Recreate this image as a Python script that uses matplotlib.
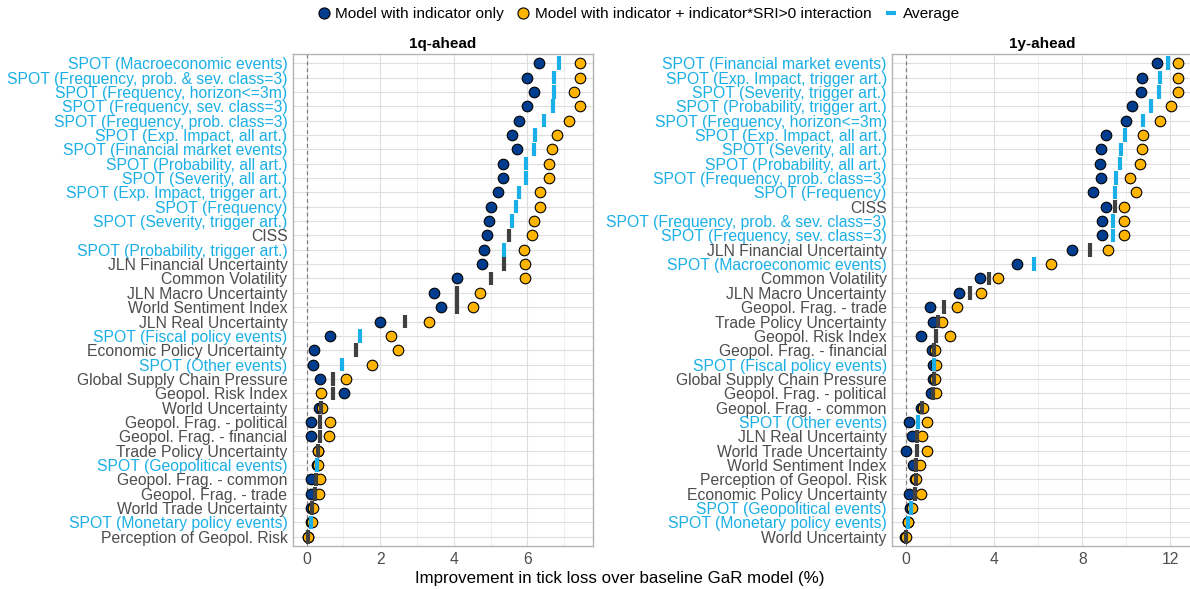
import matplotlib
matplotlib.use("Agg")
import matplotlib.pyplot as plt
from matplotlib.lines import Line2D
import numpy as np

plt.rcParams['font.family'] = ['Liberation Sans', 'DejaVu Sans']

labels_1q = [
    "SPOT (Macroeconomic events)", "SPOT (Frequency, prob. & sev. class=3)",
    "SPOT (Frequency, horizon<=3m)", "SPOT (Frequency, sev. class=3)",
    "SPOT (Frequency, prob. class=3)", "SPOT (Exp. Impact, all art.)",
    "SPOT (Financial market events)", "SPOT (Probability, all art.)",
    "SPOT (Severity, all art.)", "SPOT (Exp. Impact, trigger art.)",
    "SPOT (Frequency)", "SPOT (Severity, trigger art.)", "CISS",
    "SPOT (Probability, trigger art.)", "JLN Financial Uncertainty",
    "Common Volatility", "JLN Macro Uncertainty", "World Sentiment Index",
    "JLN Real Uncertainty", "SPOT (Fiscal policy events)",
    "Economic Policy Uncertainty", "SPOT (Other events)",
    "Global Supply Chain Pressure", "Geopol. Risk Index", "World Uncertainty",
    "Geopol. Frag. - political", "Geopol. Frag. - financial",
    "Trade Policy Uncertainty", "SPOT (Geopolitical events)",
    "Geopol. Frag. - common", "Geopol. Frag. - trade", "World Trade Uncertainty",
    "SPOT (Monetary policy events)", "Perception of Geopol. Risk",
]
blue_1q = [6.33, 6.00, 6.17, 6.00, 5.78, 5.59, 5.72, 5.35, 5.35, 5.20, 5.02, 4.97,
           4.90, 4.81, 4.78, 4.10, 3.45, 3.64, 1.98, 0.62, 0.21, 0.16, 0.36, 1.02,
           0.33, 0.12, 0.12, 0.30, 0.27, 0.12, 0.12, 0.13, 0.11, 0.03]
orange_1q = [7.42, 7.42, 7.27, 7.42, 7.12, 6.82, 6.66, 6.59, 6.59, 6.34, 6.35, 6.18,
             6.13, 5.92, 5.94, 5.94, 4.71, 4.51, 3.33, 2.28, 2.47, 1.77, 1.06, 0.40,
             0.42, 0.63, 0.60, 0.32, 0.31, 0.36, 0.34, 0.18, 0.14, 0.03]
avg_1q = [6.87, 6.73, 6.73, 6.71, 6.46, 6.22, 6.19, 5.97, 5.97, 5.77, 5.68, 5.58,
          5.51, 5.36, 5.36, 5.01, 4.09, 4.08, 2.66, 1.45, 1.34, 0.97, 0.71, 0.71,
          0.38, 0.37, 0.35, 0.31, 0.29, 0.24, 0.22, 0.15, 0.12, 0.03]

labels_1y = [
    "SPOT (Financial market events)", "SPOT (Exp. Impact, trigger art.)",
    "SPOT (Severity, trigger art.)", "SPOT (Probability, trigger art.)",
    "SPOT (Frequency, horizon<=3m)", "SPOT (Exp. Impact, all art.)",
    "SPOT (Severity, all art.)", "SPOT (Probability, all art.)",
    "SPOT (Frequency, prob. class=3)", "SPOT (Frequency)", "CISS",
    "SPOT (Frequency, prob. & sev. class=3)", "SPOT (Frequency, sev. class=3)",
    "JLN Financial Uncertainty", "SPOT (Macroeconomic events)",
    "Common Volatility", "JLN Macro Uncertainty", "Geopol. Frag. - trade",
    "Trade Policy Uncertainty", "Geopol. Risk Index", "Geopol. Frag. - financial",
    "SPOT (Fiscal policy events)", "Global Supply Chain Pressure",
    "Geopol. Frag. - political", "Geopol. Frag. - common", "SPOT (Other events)",
    "JLN Real Uncertainty", "World Trade Uncertainty", "World Sentiment Index",
    "Perception of Geopol. Risk", "Economic Policy Uncertainty",
    "SPOT (Geopolitical events)", "SPOT (Monetary policy events)",
    "World Uncertainty",
]
blue_1y = [11.41, 10.73, 10.65, 10.26, 9.98, 9.09, 8.85, 8.80, 8.85, 8.50, 9.06,
           8.90, 8.90, 7.52, 5.02, 3.37, 2.41, 1.10, 1.21, 0.70, 1.20, 1.22, 1.21,
           1.12, 0.67, 0.14, 0.27, 0.02, 0.30, 0.42, 0.12, 0.17, 0.07, -0.05]
orange_1y = [12.36, 12.36, 12.36, 12.03, 11.54, 10.77, 10.70, 10.61, 10.15, 10.44,
             9.91, 9.88, 9.88, 9.15, 6.57, 4.16, 3.42, 2.31, 1.65, 2.00, 1.33, 1.36,
             1.33, 1.35, 0.76, 0.95, 0.73, 0.97, 0.62, 0.45, 0.67, 0.25, 0.11, -0.01]
avg_1y = [11.88, 11.54, 11.50, 11.13, 10.76, 9.92, 9.77, 9.71, 9.52, 9.47, 9.49,
          9.39, 9.39, 8.34, 5.79, 3.77, 2.92, 1.71, 1.44, 1.35, 1.29, 1.29, 1.27,
          1.23, 0.73, 0.54, 0.50, 0.50, 0.45, 0.44, 0.39, 0.21, 0.09, -0.02]

panel_titles = ["1q-ahead", "1y-ahead"]
xticks_1q = [0, 2, 4, 6]
xticks_1y = [0, 4, 8, 12]

C_BLUE = "#003D8F"
C_ORANGE = "#FFB400"
C_LIGHT = "#1AAFE6"
C_DARK = "#404040"
C_TEXT = "#4D4D4D"

W, H = 1190, 589
fig = plt.figure(figsize=(W / 100, H / 100), dpi=100)

def px_axes(x0, x1, ytop, ybot):
    return [x0 / W, 1 - ybot / H, (x1 - x0) / W, (ybot - ytop) / H]

ax1 = fig.add_axes(px_axes(293, 593, 54, 546))
ax2 = fig.add_axes(px_axes(892.3, 1192.3, 54, 546))

def draw(ax, labels, blue, orange, avg, xlim, xticks, minor, title):
    n = len(labels)
    y = np.arange(n)
    ax.set_xlim(*xlim)
    ax.set_ylim(n - 1 + 0.64, -0.64)
    ax.set_xticks(xticks)
    ax.set_xticks(minor, minor=True)
    ax.set_yticks(y)
    ax.set_yticklabels(labels)
    is_spot = [lab.startswith("SPOT") for lab in labels]
    ax.tick_params(axis='both', which='both', length=0, labelsize=11.3, colors=C_TEXT)
    ax.tick_params(axis='y', pad=4)
    ax.tick_params(axis='x', pad=4)
    for t, s in zip(ax.get_yticklabels(), is_spot):
        t.set_color(C_LIGHT if s else C_TEXT)
    ax.grid(True, which='major', color='#DEDEDE', lw=0.8, zorder=0)
    ax.grid(True, which='minor', axis='x', color='#EDEDED', lw=0.6, zorder=0)
    ax.set_axisbelow(True)
    for sp in ax.spines.values():
        sp.set_color('#B3B3B3')
        sp.set_linewidth(1.0)
    ax.axvline(0, color='#7F7F7F', ls=(0, (3, 2.5)), lw=0.9, zorder=1)
    ax.scatter(blue, y, s=58, color=C_BLUE, edgecolor='black', linewidths=0.8, zorder=3)
    ax.scatter(orange, y, s=58, color=C_ORANGE, edgecolor='black', linewidths=0.8, zorder=4)
    avg_cols = [C_LIGHT if s else C_DARK for s in is_spot]
    ax.scatter(avg, y, s=95, marker='|', c=avg_cols, linewidths=3.0, zorder=5)
    ax.set_title(title, fontsize=11, fontweight='bold', pad=4)

draw(ax1, labels_1q, blue_1q, orange_1q, avg_1q, (-0.373, 7.786),
     xticks_1q, [1, 3, 5, 7], panel_titles[0])
draw(ax2, labels_1y, blue_1y, orange_1y, avg_1y, (-0.622, 12.996),
     xticks_1y, [2, 6, 10], panel_titles[1])

handles = [
    Line2D([], [], ls='none', marker='o', ms=8, mfc=C_BLUE, mec='black', mew=0.8),
    Line2D([], [], ls='none', marker='o', ms=8, mfc=C_ORANGE, mec='black', mew=0.8),
    Line2D([], [], color=C_LIGHT, lw=3, solid_capstyle='butt'),
]
leg_labels = ["Model with indicator only",
              "Model with indicator + indicator*SRI>0 interaction",
              "Average"]
fig.legend(handles, leg_labels, loc='center', bbox_to_anchor=(639 / W, 1 - 14 / H),
           ncol=3, frameon=False, fontsize=11.1, handlelength=0.7,
           handletextpad=0.4, columnspacing=0.9)

fig.text(620 / W, 1 - 578 / H, "Improvement in tick loss over baseline GaR model (%)",
         ha='center', va='center', fontsize=12.2, color='black')

fig.savefig("out.png", dpi=100)
